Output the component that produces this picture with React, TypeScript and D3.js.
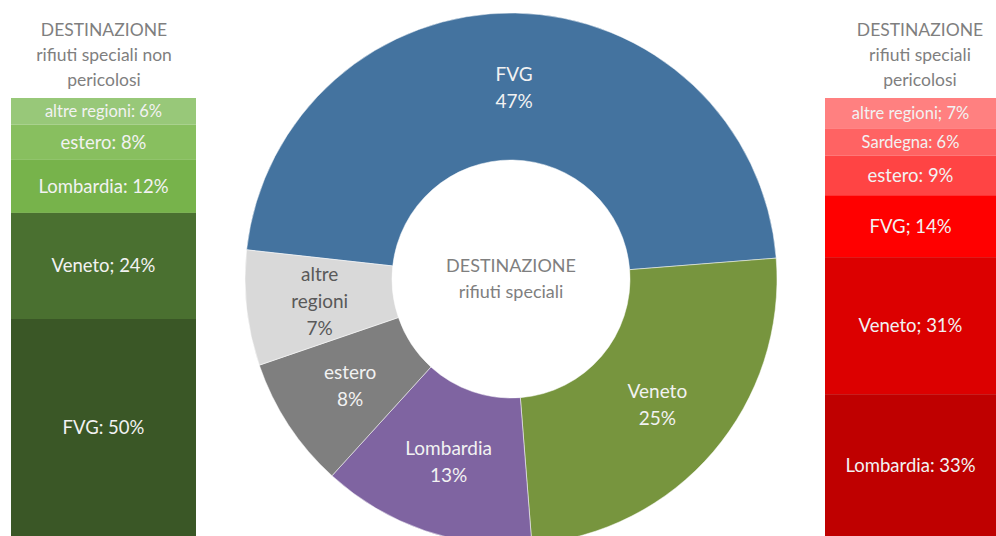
import React from 'react';
import * as d3 from 'd3';

// donut: destinazione rifiuti speciali (totale)
const donutCategories = ['FVG', 'Veneto', 'Lombardia', 'estero', 'altre regioni'];
const donutValues = [47, 25, 13, 8, 7];
const donutColors = ['#44739f', '#77953e', '#7f64a1', '#7f7f7f', '#d9d9d9'];
const donutLabelLines = [['FVG'], ['Veneto'], ['Lombardia'], ['estero'], ['altre', 'regioni']];

// barra sinistra: non pericolosi (dall'alto verso il basso)
const npCategories = ['altre regioni', 'estero', 'Lombardia', 'Veneto', 'FVG'];
const npValues = [6, 8, 12, 24, 50];
const npSep = [': ', ': ', ': ', '; ', ': '];
const npColors = ['#98c879', '#88bf5f', '#77b34b', '#4a7030', '#3a5726'];

// barra destra: pericolosi
const pCategories = ['altre regioni', 'Sardegna', 'estero', 'FVG', 'Veneto', 'Lombardia'];
const pValues = [7, 6, 9, 14, 31, 33];
const pSep = ['; ', ': ', ': ', '; ', '; ', ': '];
const pColors = ['#ff8080', '#ff6363', '#ff4444', '#ff0000', '#dc0000', '#bf0000'];

const W = 996;
const H = 536;
const FONT = 'Lato, "Open Sans", sans-serif';

function StackBar({ x, w, cats, vals, seps, colors, small }: any) {
  const y = d3.scaleLinear().domain([0, 100]).range([98, 540]);
  const cum = d3.cumsum(vals);
  return (
    <g>
      {cats.map((c: string, i: number) => {
        const y0 = y(i === 0 ? 0 : cum[i - 1]);
        const y1 = y(cum[i]);
        const fs = i < small ? 16.5 : 18.5;
        return (
          <g key={c}>
            <rect x={x} y={y0} width={w} height={y1 - y0} fill={colors[i]} />
            <text
              x={x + w / 2}
              y={(y0 + Math.min(y1, H)) / 2}
              dy="0.35em"
              textAnchor="middle"
              fontSize={fs}
              fill="#f2f2f2"
            >
              {c + seps[i] + vals[i] + '%'}
            </text>
          </g>
        );
      })}
    </g>
  );
}

export default function App() {
  const cx = 511;
  const cy = 279;
  const R = 266;
  const r = 119;
  const start = (-83.7 * Math.PI) / 180;
  const pie = d3
    .pie<number>()
    .sort(null)
    .startAngle(start)
    .endAngle(start + 2 * Math.PI);
  const arcs = pie(donutValues);
  const arc = d3.arc<d3.PieArcDatum<number>>().innerRadius(r).outerRadius(R);

  return (
    <svg
      width={W}
      height={H}
      style={{ position: 'absolute', left: 0, top: 0, fontFamily: FONT }}
    >
      <rect width={W} height={H} fill="#ffffff" />

      {/* titoli laterali */}
      <g fill="#7f7f7f" fontSize={17.5} textAnchor="middle">
        <text x={104} y={36}>DESTINAZIONE</text>
        <text x={104} y={61}>rifiuti speciali non</text>
        <text x={104} y={86}>pericolosi</text>
        <text x={920} y={36}>DESTINAZIONE</text>
        <text x={920} y={61}>rifiuti speciali</text>
        <text x={920} y={86}>pericolosi</text>
      </g>

      <StackBar x={11} w={185} cats={npCategories} vals={npValues} seps={npSep} colors={npColors} small={1} />
      <StackBar x={825} w={171} cats={pCategories} vals={pValues} seps={pSep} colors={pColors} small={2} />

      {/* donut */}
      <g transform={`translate(${cx},${cy})`}>
        {arcs.map((a, i) => (
          <path key={donutCategories[i]} d={arc(a) || ''} fill={donutColors[i]} stroke="#ffffff" strokeWidth={0.5} />
        ))}
        {arcs.map((a, i) => {
          const [lx, ly] = arc.centroid(a);
          const lines = [...donutLabelLines[i], donutValues[i] + '%'];
          const lh = 27;
          const top = ly + 1 - ((lines.length - 1) * lh) / 2;
          return (
            <text
              key={'l' + i}
              textAnchor="middle"
              fontSize={19}
              fill={i === 4 ? '#595959' : '#f2f2f2'}
            >
              {lines.map((t, k) => (
                <tspan key={k} x={lx} y={top + k * lh} dy="0.35em">
                  {t}
                </tspan>
              ))}
            </text>
          );
        })}
        <g fill="#7f7f7f" fontSize={18} textAnchor="middle">
          <text y={-13} dy="0.35em">DESTINAZIONE</text>
          <text y={13} dy="0.35em">rifiuti speciali</text>
        </g>
      </g>
    </svg>
  );
}
